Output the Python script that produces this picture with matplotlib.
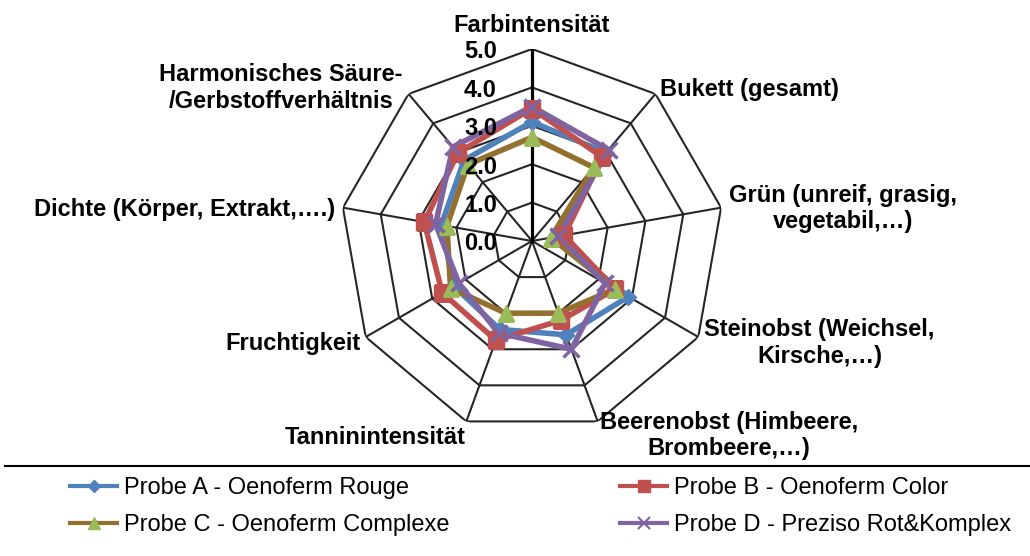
import numpy as np
import matplotlib
matplotlib.use("Agg")
import matplotlib.pyplot as plt
from matplotlib.lines import Line2D

# --- data ---
categories = [
    "Farbintensität",
    "Bukett (gesamt)",
    "Grün (unreif, grasig,\nvegetabil,…)",
    "Steinobst (Weichsel,\nKirsche,…)",
    "Beerenobst (Himbeere,\nBrombeere,…)",
    "Tanninintensität",
    "Fruchtigkeit",
    "Dichte (Körper, Extrakt,….)",
    "Harmonisches Säure-\n/Gerbstoffverhältnis",
]
probe_a = [3.1, 3.0, 0.6, 2.9, 2.6, 2.45, 2.35, 2.4, 2.75]
probe_b = [3.45, 2.85, 0.85, 2.5, 2.2, 2.75, 2.7, 2.85, 3.0]
probe_c = [2.7, 2.5, 0.5, 2.5, 2.0, 2.0, 2.45, 2.25, 2.6]
probe_d = [3.5, 3.1, 0.7, 2.2, 3.0, 2.55, 2.2, 2.55, 3.2]
series_names = [
    "Probe A - Oenoferm Rouge",
    "Probe B - Oenoferm Color",
    "Probe C - Oenoferm Complexe",
    "Probe D - Preziso Rot&Komplex",
]
r_ticks = [0.0, 1.0, 2.0, 3.0, 4.0, 5.0]

# --- styles ---
LINE_COL = ["#4F81BD", "#C0504D", "#94702F", "#8064A2"]
MARK_COL = ["#4F81BD", "#C0504D", "#9BBB59", "#8064A2"]
MARKERS = ["D", "s", "^", "x"]
GRID = "#262626"
# label offsets from the outer vertex (pixels) + alignment
LBL = [((0, 24), "center"), ((5, 4), "left"), ((8, -1), "left"),
       ((6, -6), "left"), ((2, -14), "left"), ((-1, -16), "right"),
       ((-5, -6), "right"), ((-8, -2), "right"), ((-6, 6), "right")]

W, H = 1030, 556
fig = plt.figure(figsize=(W / 100, H / 100), dpi=100)
cx, cy, R = 532, 241, 192
ax = fig.add_axes([(cx - R) / W, (H - cy - R) / H, 2 * R / W, 2 * R / H],
                  projection="polar")
ax.set_theta_zero_location("N")
ax.set_theta_direction(-1)
ax.set_ylim(0, r_ticks[-1])
ax.set_xticks([]); ax.set_yticks([])
ax.grid(False)
ax.spines["polar"].set_visible(False)
ax.patch.set_alpha(0)

n = len(categories)
theta = np.arange(n) * 2 * np.pi / n
theta_c = np.append(theta, theta[0])

# polygon rings + spokes
for r in r_ticks[1:]:
    ax.plot(theta_c, [r] * (n + 1), color=GRID, lw=1.5, zorder=1)
for i, th in enumerate(theta):
    ax.plot([th, th], [0, r_ticks[-1]], color="black" if i == 0 else GRID,
            lw=2.3 if i == 0 else 1.5, zorder=1 if i else 2)

# series
handles = []
for vals, lc, mc, mk in zip([probe_a, probe_b, probe_c, probe_d], LINE_COL, MARK_COL, MARKERS):
    v = np.append(vals, vals[0])
    ax.plot(theta_c, v, color=lc, lw=4, zorder=3)
    ax.plot(theta, vals, ls="none", marker=mk, ms=11 if mk != "D" else 8,
            mfc=mc, mec=mc, mew=2.5 if mk == "x" else 1, zorder=4)
    handles.append(Line2D([], [], color=lc, lw=3, marker=mk, ms=9 if mk != "D" else 6,
                          mfc=mc, mec=mc, mew=1.5 if mk == "x" else 1))

# value labels left of the main axis (drawn over the series)
for r in r_ticks:
    ax.annotate(f"{r:.1f}", xy=(0, r), xytext=(-35, -3), textcoords="offset pixels",
                ha="right", va="center", fontsize=17, fontweight="bold",
                family="Liberation Sans", zorder=6)

# category labels
for th, lab, ((dx, dy), ha) in zip(theta, categories, LBL):
    ax.annotate(lab, xy=(th, r_ticks[-1]), xytext=(dx, dy), textcoords="offset pixels",
                ha=ha, va="center", multialignment="center", fontsize=17,
                fontweight="bold", family="Liberation Sans", annotation_clip=False)

# separator line above legend
fig.add_artist(Line2D([5 / W, 1], [(H - 466) / H] * 2, transform=fig.transFigure,
                      color="black", lw=1.5))

# legend: two columns placed separately
kw = dict(loc="upper left", frameon=False, prop={"family": "Liberation Sans", "size": 17},
          handlelength=2.0, handletextpad=0.3, labelspacing=0.65, borderpad=0,
          borderaxespad=0, numpoints=1)
fig.legend([handles[0], handles[2]], [series_names[0], series_names[2]],
           bbox_to_anchor=(70 / W, (H - 477) / H), **kw)
fig.legend([handles[1], handles[3]], [series_names[1], series_names[3]],
           bbox_to_anchor=(620 / W, (H - 477) / H), **kw)

fig.savefig("out.png", dpi=100)
